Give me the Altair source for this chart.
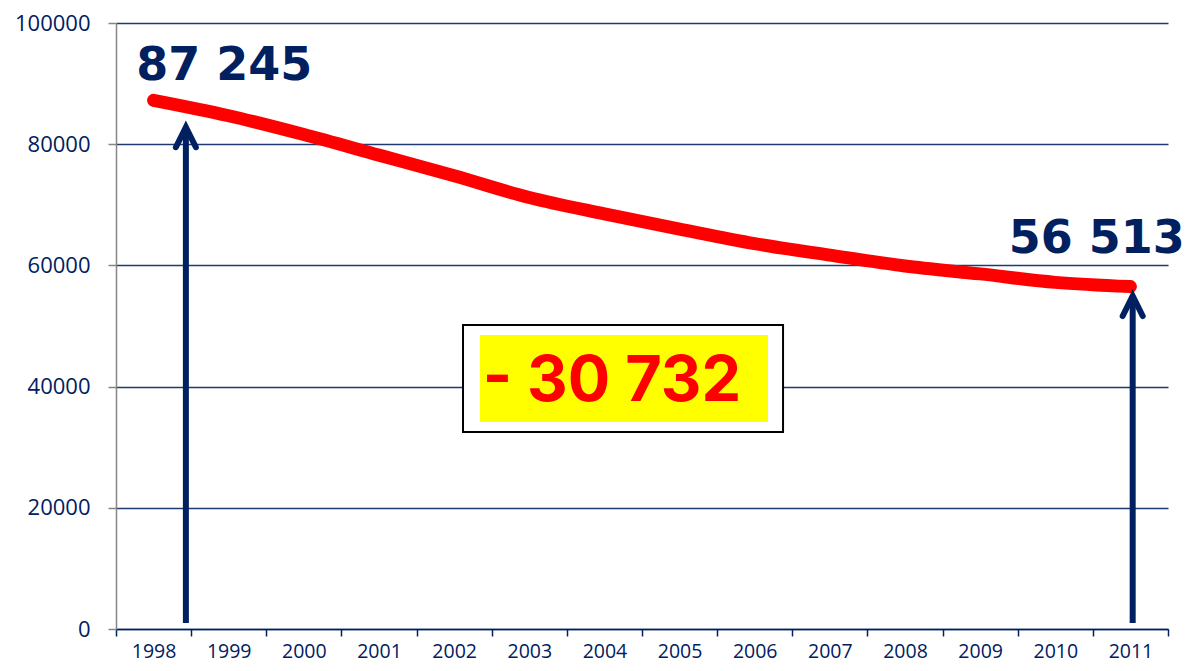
import altair as alt
import pandas as pd

# ---- data ----
years = list(range(1998, 2012))
values = [87245, 84700, 81600, 78200, 74800, 71200, 68500, 66000,
          63600, 61700, 59900, 58600, 57200, 56513]

# annotation arrows (in data units: year, value)
arrow_x = [1998.43, 2011.03]
arrow_base = [1000, 1000]
arrow_tip = [82800, 54950]

# value callouts
callout_text = ["87 245", "56 513"]
callout_x = [1997.77, 2009.38]
callout_y = [90600, 62000]

# difference box
diff_text = ["- 30 732"]
diff_x = [2002.38]
diff_y = [37620]
box_outer = {"x": [2002.118], "x2": [2006.377], "y": [32508], "y2": [50165]}
box_inner = {"x": [2002.344], "x2": [2006.177], "y": [34158], "y2": [48515]}

y_ticks = [0, 20000, 40000, 60000, 80000, 100000]
x_boundaries = [y - 0.5 for y in years] + [years[-1] + 0.5]

NAVY = "#002060"
GRID = "#1F3A70"
GRAY = "#868686"

df = pd.DataFrame({"year": years, "value": values})
arrows = pd.DataFrame({"x": arrow_x, "y": arrow_base, "y2": arrow_tip})
callouts = pd.DataFrame({"x": callout_x, "y": callout_y, "t": callout_text})
diff = pd.DataFrame({"x": diff_x, "y": diff_y, "t": diff_text})
outer = pd.DataFrame(box_outer)
inner = pd.DataFrame(box_inner)

xscale = alt.Scale(domain=[1997.5, 2011.5], nice=False, zero=False)
yscale = alt.Scale(domain=[0, 100000], nice=False)

xaxis = alt.Axis(
    values=x_boundaries,
    labelExpr="datum.value > 2011 ? '' : toString(datum.value + 0.5)",
    labelOffset=37.57,
    labelOverlap=False, labelBound=False, labelFlush=False,
    grid=False, title=None,
    domainColor=NAVY, domainWidth=1.5,
    tickColor=NAVY, tickWidth=1.5, tickSize=7,
    labelColor=NAVY, labelFont="Open Sans", labelFontSize=19.5,
    labelPadding=6,
)
yaxis = alt.Axis(
    values=y_ticks, format="d", title=None,
    grid=True, gridColor=GRID, gridWidth=1.4,
    domainColor=GRAY, domainWidth=1.5,
    tickColor=GRAY, tickWidth=1.5, tickSize=8,
    labelColor=NAVY, labelFont="Open Sans", labelFontSize=22,
    labelPadding=18,
)


def X(field):
    return alt.X(field, scale=xscale, axis=xaxis)


def Y(field):
    return alt.Y(field, scale=yscale, axis=yaxis)


line = alt.Chart(df).mark_line(
    color="#FF0000", strokeWidth=13, strokeCap="round", strokeJoin="round",
    interpolate="monotone"
).encode(x=X("year:Q"), y=Y("value:Q"))

box1 = alt.Chart(outer).mark_rect(fill="white", stroke="black", strokeWidth=2).encode(
    x=X("x:Q"), x2="x2:Q", y=Y("y:Q"), y2="y2:Q",
)
box2 = alt.Chart(inner).mark_rect(fill="#FFFF00").encode(
    x=X("x:Q"), x2="x2:Q", y=Y("y:Q"), y2="y2:Q",
)
diff_lbl = alt.Chart(diff).mark_text(
    align="left", baseline="alphabetic", font="Inter", fontWeight="bold",
    fontSize=63, color="#FF0000"
).encode(x=X("x:Q"), y=Y("y:Q"), text="t:N")

shaft = alt.Chart(arrows).mark_rule(color=NAVY, strokeWidth=6).encode(
    x=X("x:Q"), y=Y("y:Q"), y2="y2:Q",
)
head = alt.Chart(arrows).mark_point(
    shape="M -0.5 1 L 0 0 L 0.5 1", size=1600, filled=False,
    stroke=NAVY, strokeWidth=6, strokeCap="round", strokeJoin="miter", opacity=1
).encode(x=X("x:Q"), y=Y("y2:Q"))

call = alt.Chart(callouts).mark_text(
    align="left", baseline="alphabetic", font="DejaVu Sans", fontWeight="bold",
    fontSize=46, color=NAVY
).encode(x=X("x:Q"), y=Y("y:Q"), text="t:N")

chart = alt.layer(box1, box2, diff_lbl, line, shaft, head, call).properties(
    width=1052, height=606,
    padding={"left": 108, "top": 15, "right": 16, "bottom": 33},
    autosize="none",
    background="white",
).configure_view(strokeWidth=0)

chart.save("out.html", embed_options={"renderer": "svg", "actions": False})
